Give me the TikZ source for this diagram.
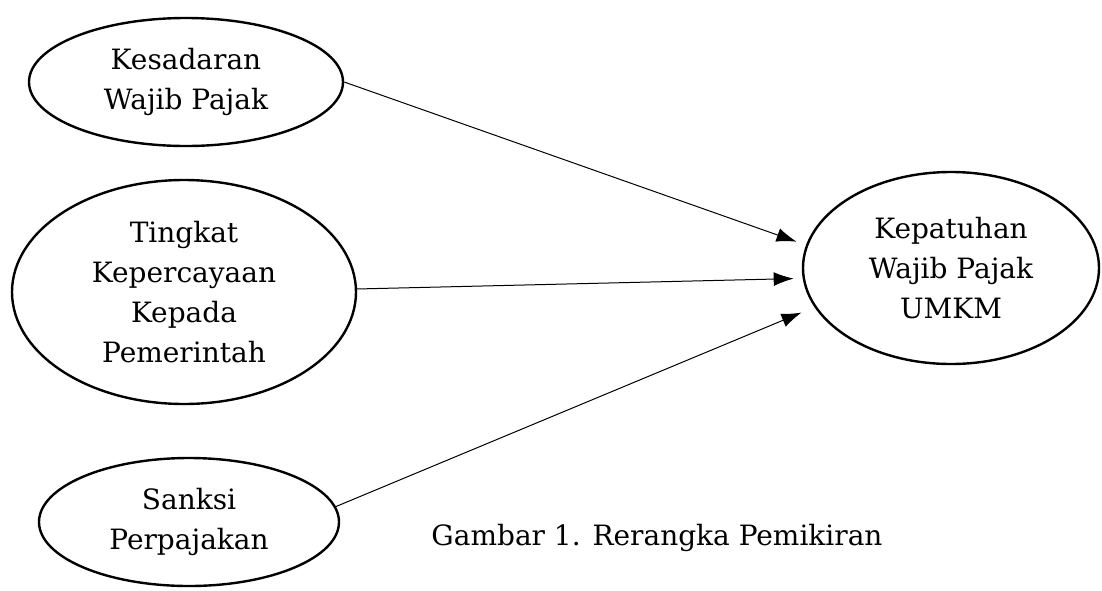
\documentclass[tikz,border=0pt]{standalone}
\usepackage{fontspec}
\setmainfont{DejaVu Serif}
\usetikzlibrary{shapes.geometric, arrows.meta}

\begin{document}
\begin{tikzpicture}[%
  var/.style = {ellipse, draw, line width = 1.2pt, inner sep = 0pt, align = center,
    font = \fontsize{14}{20}\selectfont},
  arr/.style = {-{Latex[length = 10pt, width = 7pt]}, line width = 0.5pt},
  x = 0.5pt, y = -0.5pt]
  \useasboundingbox (0, 0) rectangle (1102, 590);

  \node[var, minimum width = 157pt, minimum height = 64pt] (sadar) at (186, 82)
    {Kesadaran\\Wajib Pajak};
  \node[var, minimum width = 172pt, minimum height = 112pt] (percaya) at (184, 292)
    {Tingkat\\Kepercayaan\\Kepada\\Pemerintah};
  \node[var, minimum width = 150pt, minimum height = 64pt] (sanksi) at (189, 522)
    {Sanksi\\Perpajakan};
  \node[var, minimum width = 148pt, minimum height = 96pt] (patuh) at (951, 268)
    {Kepatuhan\\Wajib Pajak\\UMKM};

  \node[font = \fontsize{14}{20}\selectfont] (judul) at (657, 538)
    {Gambar 1. Rerangka Pemikiran};

  \draw[arr, shorten > = 5pt] (sadar.east) -- (patuh.171);
  \draw[arr, shorten > = 4.5pt] (percaya.1) -- (patuh.184);
  \draw[arr, shorten > = 7pt] (sanksi.6) -- (patuh.196);
\end{tikzpicture}
\end{document}
